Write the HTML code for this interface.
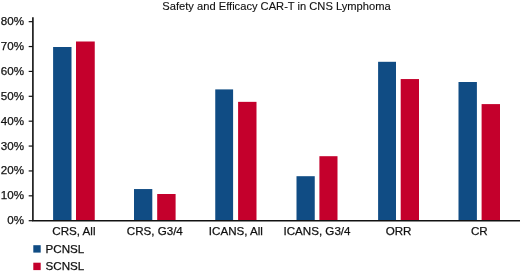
<!DOCTYPE html>
<html><head><meta charset="utf-8"><title>Safety and Efficacy CAR-T in CNS Lymphoma</title>
<style>
html,body{margin:0;padding:0;background:#fff;}
svg{display:block;}
text{font-family:"Liberation Sans",Arial,Helvetica,sans-serif;fill:#111;stroke:#111;stroke-width:0.25;}
</style></head><body>
<svg width="520" height="273" viewBox="0 0 520 273">
<rect width="520" height="273" fill="#fff"/>
<text x="276.5" y="10.2" font-size="11.15" text-anchor="middle" style="stroke-width:0.12">Safety and Efficacy CAR-T in CNS Lymphoma</text>

<rect x="53.1" y="47.0" width="18.40" height="173.70" fill="#104c84"/>
<rect x="76.0" y="41.5" width="18.75" height="179.20" fill="#c4002c"/>
<text x="73.92" y="235.3" font-size="11.6" text-anchor="middle">CRS, All</text>
<rect x="134.0" y="189.05" width="18.30" height="31.65" fill="#104c84"/>
<rect x="157.2" y="194.0" width="18.40" height="26.70" fill="#c4002c"/>
<text x="154.80" y="235.3" font-size="11.6" text-anchor="middle">CRS, G3/4</text>
<rect x="215.25" y="89.4" width="17.85" height="131.30" fill="#104c84"/>
<rect x="238.1" y="101.85" width="18.40" height="118.85" fill="#c4002c"/>
<text x="235.88" y="235.3" font-size="11.6" text-anchor="middle">ICANS, All</text>
<rect x="296.5" y="176.2" width="18.25" height="44.50" fill="#104c84"/>
<rect x="319.4" y="156.2" width="18.10" height="64.50" fill="#c4002c"/>
<text x="317.00" y="235.3" font-size="11.6" text-anchor="middle">ICANS, G3/4</text>
<rect x="378.1" y="61.8" width="17.90" height="158.90" fill="#104c84"/>
<rect x="400.7" y="79.05" width="18.30" height="141.65" fill="#c4002c"/>
<text x="398.55" y="235.3" font-size="11.6" text-anchor="middle">ORR</text>
<rect x="458.5" y="82.0" width="18.40" height="138.70" fill="#104c84"/>
<rect x="481.6" y="104.1" width="18.40" height="116.60" fill="#c4002c"/>
<text x="479.25" y="235.3" font-size="11.6" text-anchor="middle">CR</text>
<path d="M32.9 17.2V220.7H520" fill="none" stroke="#111" stroke-width="1.6"/>
<path d="M28.7 220.70H32.9" stroke="#111" stroke-width="1.2"/>
<text x="24" y="224.15" font-size="11.6" text-anchor="end">0%</text>
<path d="M28.7 195.82H32.9" stroke="#111" stroke-width="1.2"/>
<text x="24" y="199.27" font-size="11.6" text-anchor="end">10%</text>
<path d="M28.7 170.94H32.9" stroke="#111" stroke-width="1.2"/>
<text x="24" y="174.39" font-size="11.6" text-anchor="end">20%</text>
<path d="M28.7 146.06H32.9" stroke="#111" stroke-width="1.2"/>
<text x="24" y="149.51" font-size="11.6" text-anchor="end">30%</text>
<path d="M28.7 121.18H32.9" stroke="#111" stroke-width="1.2"/>
<text x="24" y="124.63" font-size="11.6" text-anchor="end">40%</text>
<path d="M28.7 96.30H32.9" stroke="#111" stroke-width="1.2"/>
<text x="24" y="99.75" font-size="11.6" text-anchor="end">50%</text>
<path d="M28.7 71.42H32.9" stroke="#111" stroke-width="1.2"/>
<text x="24" y="74.87" font-size="11.6" text-anchor="end">60%</text>
<path d="M28.7 46.54H32.9" stroke="#111" stroke-width="1.2"/>
<text x="24" y="49.99" font-size="11.6" text-anchor="end">70%</text>
<path d="M28.7 21.66H32.9" stroke="#111" stroke-width="1.2"/>
<text x="24" y="25.11" font-size="11.6" text-anchor="end">80%</text>
<rect x="33.3" y="245.2" width="7.4" height="7.4" fill="#104c84"/>
<rect x="33.3" y="262.7" width="7.4" height="7.4" fill="#c4002c"/>
<text x="45.6" y="252.7" font-size="11.6">PCNSL</text>
<text x="45.6" y="270.2" font-size="11.6">SCNSL</text>
</svg></body></html>
